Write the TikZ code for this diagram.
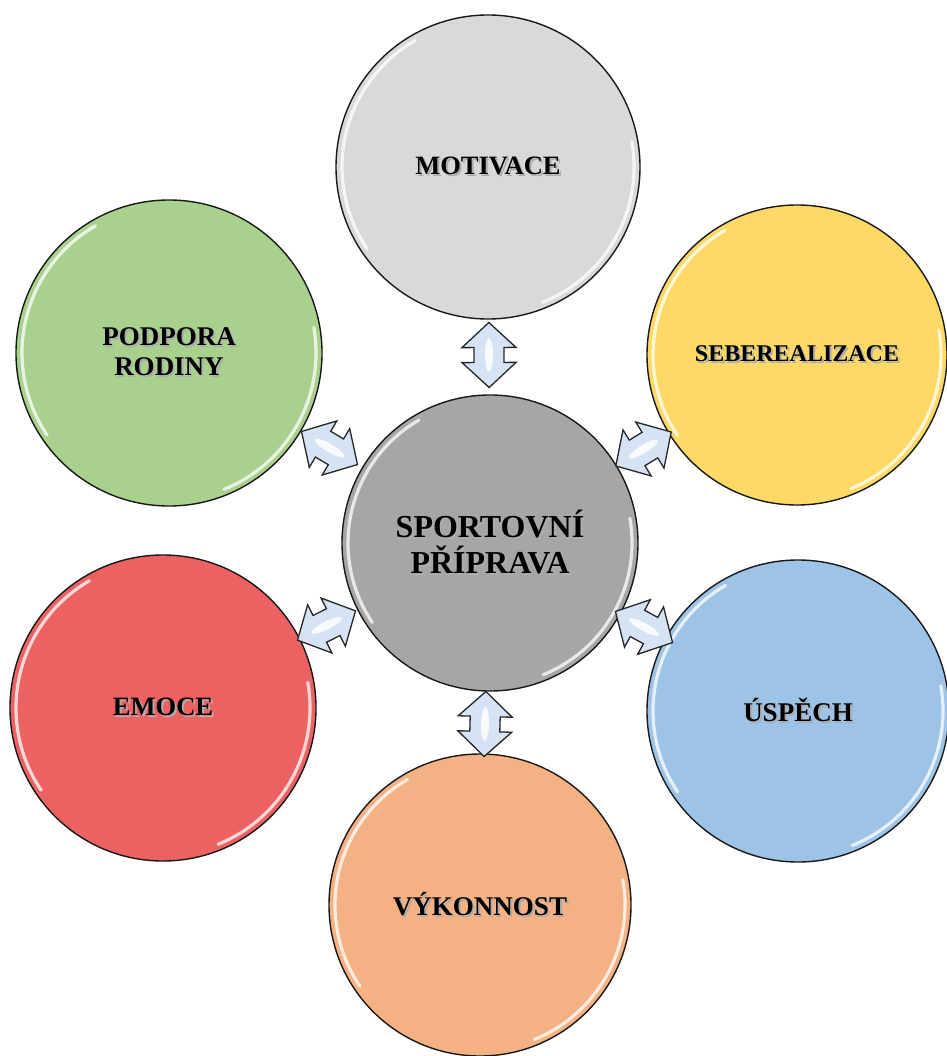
\documentclass[tikz,border=0pt]{standalone}
\usepackage{fontspec}
\setmainfont{Liberation Serif}
\usetikzlibrary{calc}
\definecolor{hubgray}{HTML}{A6A6A6}
\definecolor{motgray}{HTML}{D9D9D9}
\definecolor{sebyellow}{HTML}{FFD966}
\definecolor{uspblue}{HTML}{9DC3E6}
\definecolor{vykorange}{HTML}{F4B183}
\definecolor{emored}{HTML}{EC6161}
\definecolor{podgreen}{HTML}{A9D18E}
\definecolor{arrowfill}{HTML}{D6E3F4}
\definecolor{arrowline}{HTML}{262626}
% bold label with a soft drop shadow
\newcommand\glowtxt[1]{%
  \makebox[0pt][l]{\hspace{2pt}\raisebox{-2pt}{\color{black!32}#1}}#1}
\newcommand\fsz[1]{\fontsize{#1}{1.12\dimexpr#1pt\relax}\selectfont\bfseries}
\tikzset{
  gloss/.style={white, line width=3.2pt, opacity=.75, line cap=round},
  % a bubble of radius #1 with a light rim on two sides
  bubble/.style={circle, draw=black!90, line width=1.4pt, minimum size=2*#1,
    inner sep=0pt, align=center, text=black, font=\fsz{26.5},
    path picture={
      \draw[gloss] ([shift={(120:#1-6pt)}]path picture bounding box.center)
        arc[start angle=120, end angle=214, radius=#1-6pt];
      \draw[gloss] ([shift={(-68:#1-6pt)}]path picture bounding box.center)
        arc[start angle=-68, end angle=10, radius=#1-6pt];
    }},
  hub/.style={bubble=148pt, font=\fsz{32}},
  % two-way block arrow along the x axis
  twoway/.pic={
    \filldraw[fill=arrowfill, draw=arrowline, line width=1.3pt, line join=miter]
      (-32.5,0) -- (-7.5,27) -- (-7.5,15) -- (7.5,15) -- (7.5,27) -- (32.5,0)
      -- (7.5,-27) -- (7.5,-15) -- (-7.5,-15) -- (-7.5,-27) -- cycle;
    \fill[white, opacity=.85] (0,0) ellipse (17 and 4);
  },
}

\begin{document}
\begin{tikzpicture}[x=1pt,y=-1pt]
  \useasboundingbox (0,0) rectangle (946,1056);
  % hub and the six satellites
  \node[hub, fill=hubgray] (ctr) at (490,543) {\glowtxt{SPORTOVNÍ}\\\glowtxt{PŘÍPRAVA}};
  \node[bubble=152pt, fill=motgray] (motiv) at (488,167) {\glowtxt{MOTIVACE}};
  \node[bubble=150pt, fill=sebyellow, font=\fsz{24}] (seber) at (797,355) {\glowtxt{SEBEREALIZACE}};
  \node[bubble=151pt, fill=uspblue, font=\fsz{27}] (uspech) at (798,711) {\glowtxt{ÚSPĚCH}};
  \node[bubble=151pt, fill=vykorange, font=\fsz{27}] (vykon) at (480,905) {\glowtxt{VÝKONNOST}};
  \node[bubble=153pt, fill=emored] (emoce) at (163,708) {\glowtxt{EMOCE}};
  \node[bubble=153pt, fill=podgreen, font=\fsz{27}] (podpora) at (169,353) {\glowtxt{PODPORA}\\\glowtxt{RODINY}};
  % links between hub and satellites
  \foreach \o in {motiv,seber,uspech,vykon,emoce,podpora} {
    \path let \p1=($(\o)-(ctr)$), \n1={atan2(\y1,\x1)} in
      ($(ctr)!0.5!(\o)$) pic[rotate=\n1] {twoway};
  }
\end{tikzpicture}
\end{document}
